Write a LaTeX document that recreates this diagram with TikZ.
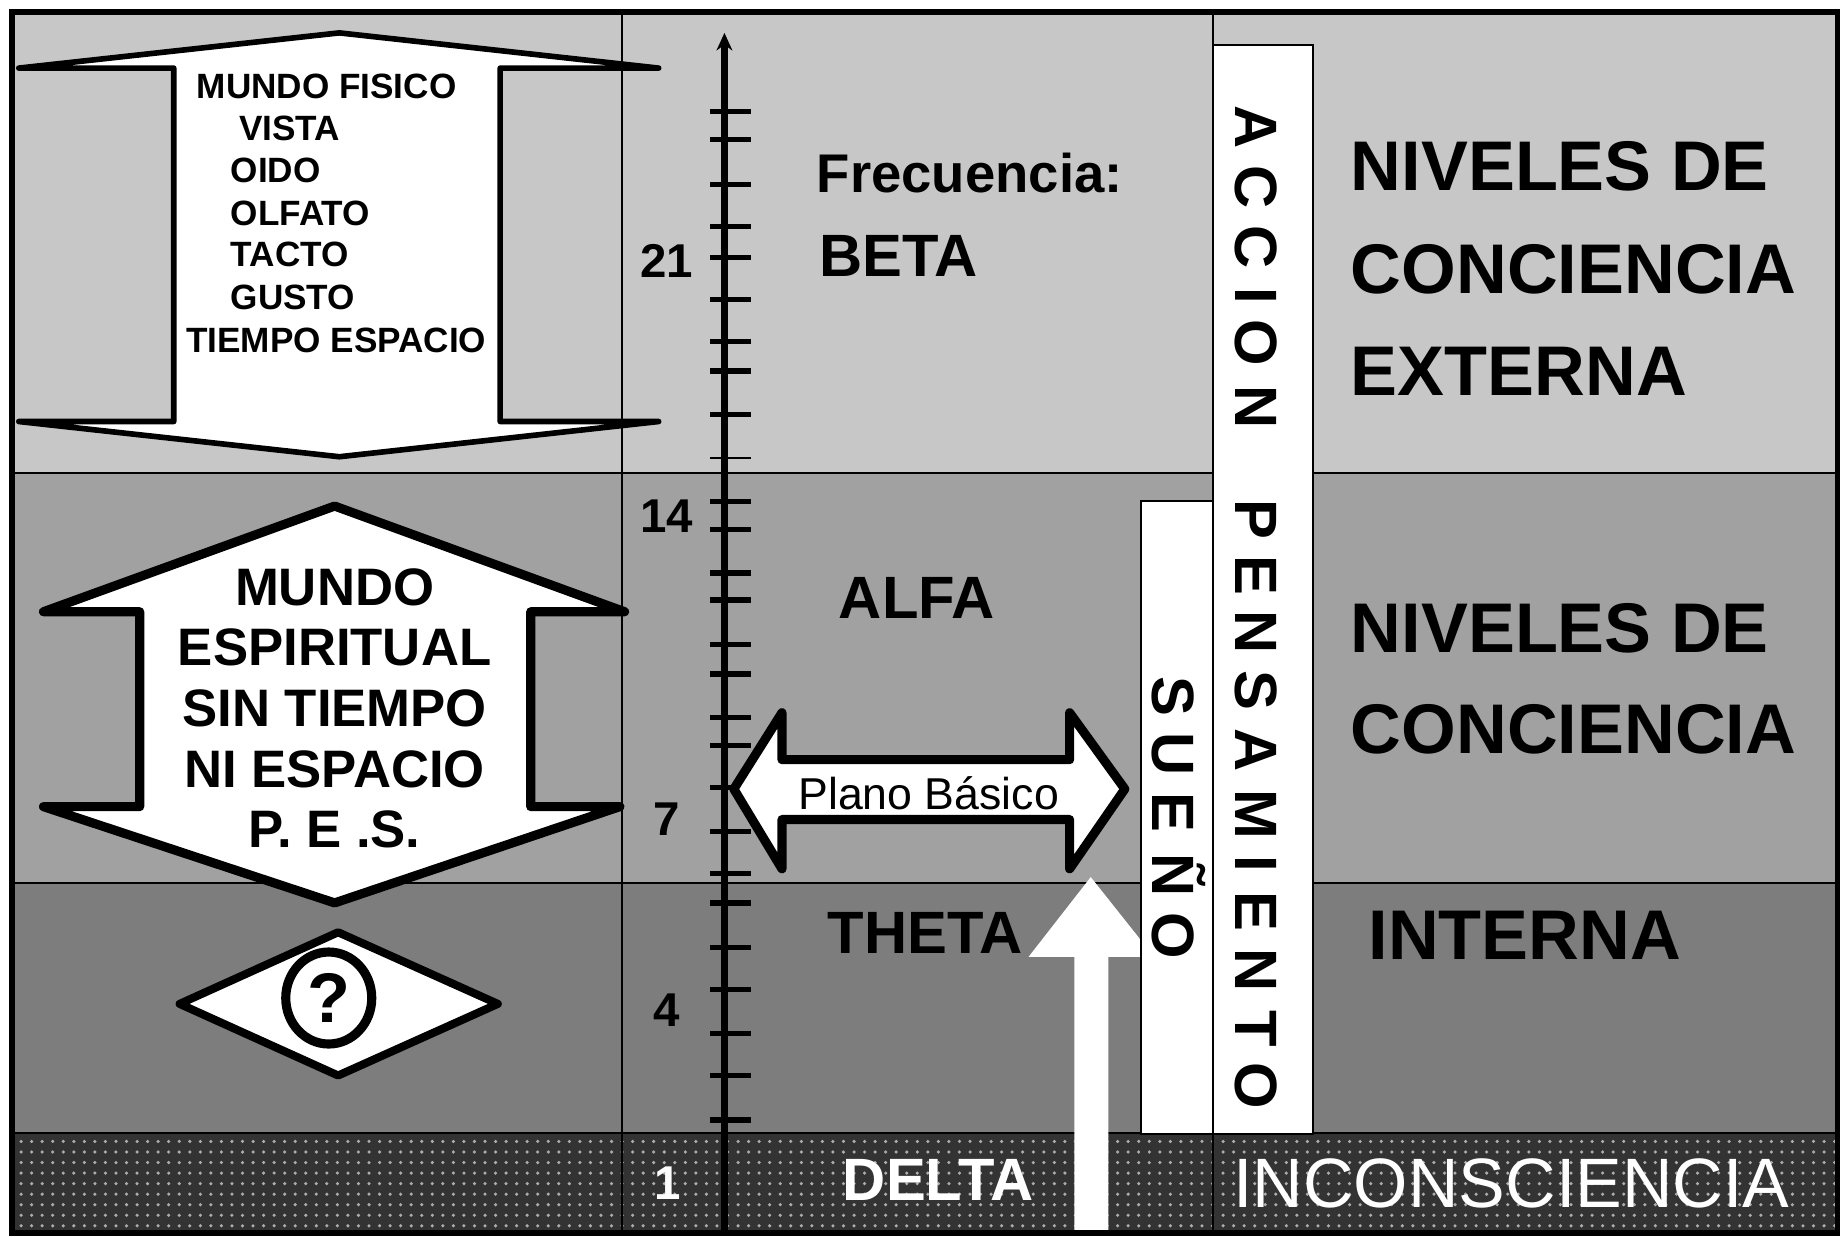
\documentclass[tikz,border=0pt]{standalone}
\usepackage{fontspec}
\setmainfont{Liberation Sans}
\usetikzlibrary{arrows.meta,patterns,shapes.geometric}

\definecolor{betagray}{gray}{0.78}
\definecolor{alfagray}{gray}{0.63}
\definecolor{thetagray}{gray}{0.49}
\definecolor{deltagray}{gray}{0.20}

\newcommand{\setfs}[1]{\fontsize{#1}{#1}\selectfont}

\tikzset{
  txt/.style={inner sep=0pt, font=\bfseries\setfs{17pt}},
  sense/.style={inner sep=0pt, anchor=west, font=\bfseries\setfs{10pt}},
  spirit/.style={inner sep=0pt, font=\bfseries\setfs{15pt}},
  levellbl/.style={inner sep=0pt, anchor=west, font=\bfseries\setfs{20pt}},
  scalenum/.style={inner sep=0pt, font=\bfseries\setfs{13.5pt}},
  vletter/.style={inner sep=0pt, anchor=base, rotate=-90, font=\bfseries\setfs{17pt}},
  bigarrow/.style={draw=black, fill=white, line width=2.6pt, line join=round},
  rulertick/.style={line width=1.5pt},
}

\begin{document}
\begin{tikzpicture}[x=0.11741mm, y=-0.11741mm]
  \useasboundingbox (0,0) rectangle (1568,1053);

  % bands
  \fill[betagray] (10,10) rectangle (1565,403);
  \fill[alfagray] (10,403) rectangle (1565,752);
  \fill[thetagray] (10,752) rectangle (1565,965);
  \fill[deltagray] (10,965) rectangle (1565,1050);
  \fill[pattern=dots, pattern color=white!60!deltagray] (10,965) rectangle (1565,1050);

  \foreach \y in {403,752,965} {
    \draw[line width=0.5pt] (10,\y) -- (1565,\y);
  }
  \foreach \x in {530,1033} {
    \draw[line width=0.5pt] (\x,10) -- (\x,1050);
  }

  % left column
  \draw[line width=1.6pt, fill=white, line join=round]
    (289,28) -- (561,58) -- (426,58) -- (426,359) -- (561,359) -- (289,389)
    -- (16,359) -- (148,359) -- (148,58) -- (16,58) -- cycle;
  \foreach \y/\x/\t [count=\i] in {74/167/MUNDO FISICO,109/203/VISTA,145/196/OIDO,
      182/196/OLFATO,217/196/TACTO,253/196/GUSTO,290/158/TIEMPO ESPACIO} {
    \node[sense] (sense\i) at (\x,\y) {\t};
  }

  \draw[bigarrow] (285,431) -- (532,521) -- (452,521) -- (452,687) -- (528,687)
    -- (285,769) -- (37,687) -- (119,687) -- (119,521) -- (37,521) -- cycle;
  \foreach \y/\t [count=\i] in {500/MUNDO,551/ESPIRITUAL,603/SIN TIEMPO,
      655/NI ESPACIO,706/P. E .S.} {
    \node[spirit] (spirit\i) at (285,\y) {\t};
  }

  \draw[bigarrow, line width=2.3pt] (153,855) -- (288,794) -- (424,855) -- (288,916) -- cycle;
  \node[ellipse, draw, line width=2.6pt, minimum width=8.6mm, minimum height=9.2mm,
    inner sep=0pt, font=\bfseries\setfs{20pt}] (ques) at (280,850) {?};

  % ruler
  \coordinate (axbot) at (617,1050);
  \coordinate (axtop) at (617,28);
  \draw[line width=2pt, -{Stealth[length=5pt,width=4.5pt]}] (axbot) -- (axtop);
  \foreach \y in {95,119,157,193,219,255,291,316,353,427,451,488,511,549,574,
      611,635,671,708,744,769,807,843,880,916,954} {
    \draw[rulertick] (605,\y) -- (640,\y);
  }
  \draw[line width=0.4pt] (605,390) -- (640,390);
  \foreach \y/\t in {222/21,440/14,698/7,860/4} {
    \node[scalenum] (hz\t) at (568,\y) {\t};
  }
  \node[scalenum, text=white] (hz1) at (569,1008) {1};

  % middle column
  \node[txt, font=\bfseries\setfs{15.5pt}] (frec) at (826,147) {Frecuencia:};
  \node[txt] (beta) at (765,218) {BETA};
  \node[txt] (alfa) at (781,509) {ALFA};
  \node[txt] (theta) at (788,795) {THETA};
  \node[txt, text=white] (delta) at (799,1005) {DELTA};

  \draw[bigarrow] (625,672) -- (666,607) -- (666,647) -- (911,647) -- (911,607)
    -- (958,672) -- (911,740) -- (911,698) -- (666,698) -- (666,740) -- cycle;
  \node[inner sep=0pt, font=\setfs{12.7pt}] (plano) at (791,676) {Plano Básico};

  \fill[white] (915,1050) -- (915,815) -- (876,815) -- (929,747) -- (983,815)
    -- (944,815) -- (944,1050) -- cycle;

  % vertical boxes
  \draw[fill=white, line width=0.5pt] (972,427) rectangle (1033,966);
  \draw[fill=white, line width=0.5pt] (1033,38) rectangle (1118,966);
  \foreach \t/\y [count=\i] in {S/593,U/642,E/692,Ñ/745,O/797} {
    \node[vletter] (sue\i) at (982,\y) {\t};
  }
  \foreach \t/\y [count=\i] in {A/108,C/159,C/210,I/252,O/292,N/347,P/442,E/490,
      N/538,S/588,A/639,M/694,I/736,E/776,N/826,T/876,O/925} {
    \node[vletter] (acc\i) at (1052,\y) {\t};
  }

  % right column
  \node[levellbl] (ext1) at (1150,142) {NIVELES DE};
  \node[levellbl] (ext2) at (1150,229) {CONCIENCIA};
  \node[levellbl] (ext3) at (1150,316) {EXTERNA};
  \node[levellbl] (int1) at (1150,535) {NIVELES DE};
  \node[levellbl] (int2) at (1150,621) {CONCIENCIA};
  \node[levellbl] (int3) at (1165,797) {INTERNA};
  \node[levellbl, font=\setfs{19.9pt}, text=white] (incon) at (1050,1008) {INCONSCIENCIA};

  \draw[line width=1.6pt] (10,10) rectangle (1565,1050);
\end{tikzpicture}
\end{document}
